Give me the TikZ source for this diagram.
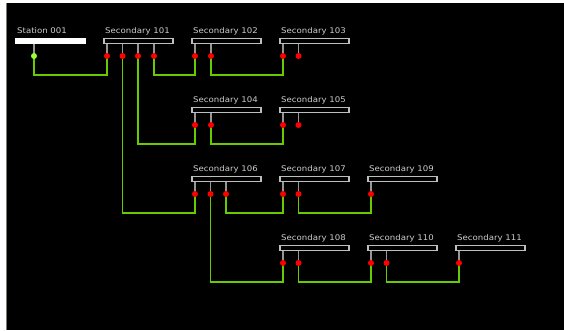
\documentclass[tikz,border=0pt]{standalone}
\usepackage{fontspec}
\setmainfont{DejaVu Sans}
\newfontfamily\lblfont[FakeStretch=1.1]{DejaVu Sans}
\definecolor{lnk}{RGB}{102,204,0}
\definecolor{sdot}{RGB}{153,255,51}
\definecolor{rdot}{RGB}{255,0,0}
\definecolor{stemc}{RGB}{150,150,150}
\definecolor{barc}{RGB}{190,190,190}
\definecolor{txtc}{RGB}{205,205,205}
\definecolor{edgec}{RGB}{120,125,110}
\tikzset{
  bar/.style={draw=barc, fill=black, line width=1.5pt, minimum width=69pt, minimum height=5pt, inner sep=0pt, anchor=north west},
  stationbar/.style={bar, fill=white, draw=white},
  lbl/.style={text=txtc, font=\lblfont\fontsize{7.8}{9}\selectfont, inner sep=0pt, anchor=base west},
  port/.style={circle, fill=rdot, minimum size=6pt, inner sep=0pt},
  sport/.style={port, fill=sdot},
  stemline/.style={draw=stemc, line width=1.4pt},
  link/.style={draw=lnk, line width=1.8pt}
}
\begin{document}
\begin{tikzpicture}[x=1pt,y=-1pt]
\useasboundingbox (0,0) rectangle (564,330);
\fill[white] (0,0) rectangle (564,330);
\fill[black] (7,3) rectangle (564,330);
\draw[edgec, line width=1pt] (6.5,3) -- (6.5,330);

% bars
\node[stationbar] (st1) at (15,37.5) {};
\node[bar] (s101) at (103,37.5) {};
\node[bar] (s102) at (191,37.5) {};
\node[bar] (s103) at (279,37.5) {};
\node[bar] (s104) at (191,106.5) {};
\node[bar] (s105) at (279,106.5) {};
\node[bar] (s106) at (191,175.5) {};
\node[bar] (s107) at (279,175.5) {};
\node[bar] (s109) at (367,175.5) {};
\node[bar] (s108) at (279,244.5) {};
\node[bar] (s110) at (367,244.5) {};
\node[bar] (s111) at (455,244.5) {};

% labels
\node[lbl] (t1) at (17,33.5) {Station 001};
\node[lbl] (t101) at (105,33.5) {Secondary 101};
\node[lbl] (t102) at (193,33.5) {Secondary 102};
\node[lbl] (t103) at (281,33.5) {Secondary 103};
\node[lbl] (t104) at (193,102.5) {Secondary 104};
\node[lbl] (t105) at (281,102.5) {Secondary 105};
\node[lbl] (t106) at (193,171.5) {Secondary 106};
\node[lbl] (t107) at (281,171.5) {Secondary 107};
\node[lbl] (t109) at (369,171.5) {Secondary 109};
\node[lbl] (t108) at (281,240.5) {Secondary 108};
\node[lbl] (t110) at (369,240.5) {Secondary 110};
\node[lbl] (t111) at (457,240.5) {Secondary 111};

% port positions
\coordinate (st1p0) at (34,56);
\coordinate (s101p0) at (107,56);
\coordinate (s101p1) at (122.5,56);
\coordinate (s101p2) at (138,56);
\coordinate (s101p3) at (154,56);
\coordinate (s102p0) at (195,56);
\coordinate (s102p1) at (211,56);
\coordinate (s103p0) at (283,56);
\coordinate (s103p1) at (298.5,56);
\coordinate (s104p0) at (195,125);
\coordinate (s104p1) at (211,125);
\coordinate (s105p0) at (283,125);
\coordinate (s105p1) at (298.5,125);
\coordinate (s106p0) at (195,194);
\coordinate (s106p1) at (210.5,194);
\coordinate (s106p2) at (226,194);
\coordinate (s107p0) at (283,194);
\coordinate (s107p1) at (298.5,194);
\coordinate (s109p0) at (371,194);
\coordinate (s108p0) at (283,263);
\coordinate (s108p1) at (298.5,263);
\coordinate (s110p0) at (371,263);
\coordinate (s110p1) at (386.5,263);
\coordinate (s111p0) at (459,263);

% stems
\foreach \b/\p in {st1/st1p0, s101/s101p0, s101/s101p1, s101/s101p2, s101/s101p3,
  s102/s102p0, s102/s102p1, s103/s103p0, s103/s103p1,
  s104/s104p0, s104/s104p1, s105/s105p0, s105/s105p1,
  s106/s106p0, s106/s106p1, s106/s106p2, s107/s107p0, s107/s107p1, s109/s109p0,
  s108/s108p0, s108/s108p1, s110/s110p0, s110/s110p1, s111/s111p0}
  \draw[stemline] (\p |- \b.south) -- (\p);

% links
\draw[link] (st1p0) -- ++(0,19) -| (s101p0);
\draw[link] (s101p3) -- ++(0,19) -| (s102p0);
\draw[link] (s102p1) -- ++(0,19) -| (s103p0);
\draw[link] (s101p2) -- ++(0,88) -| (s104p0);
\draw[link] (s104p1) -- ++(0,19) -| (s105p0);
\draw[link] (s101p1) -- ++(0,157) -| (s106p0);
\draw[link] (s106p2) -- ++(0,19) -| (s107p0);
\draw[link] (s107p1) -- ++(0,19) -| (s109p0);
\draw[link] (s106p1) -- ++(0,88) -| (s108p0);
\draw[link] (s108p1) -- ++(0,19) -| (s110p0);
\draw[link] (s110p1) -- ++(0,19) -| (s111p0);

% dots
\node[sport] (d1) at (st1p0) {};
\foreach \p in {s101p0,s101p1,s101p2,s101p3,s102p0,s102p1,s103p0,s103p1,
  s104p0,s104p1,s105p0,s105p1,s106p0,s106p1,s106p2,s107p0,s107p1,s109p0,
  s108p0,s108p1,s110p0,s110p1,s111p0}
  \node[port] (d\p) at (\p) {};
\end{tikzpicture}
\end{document}
